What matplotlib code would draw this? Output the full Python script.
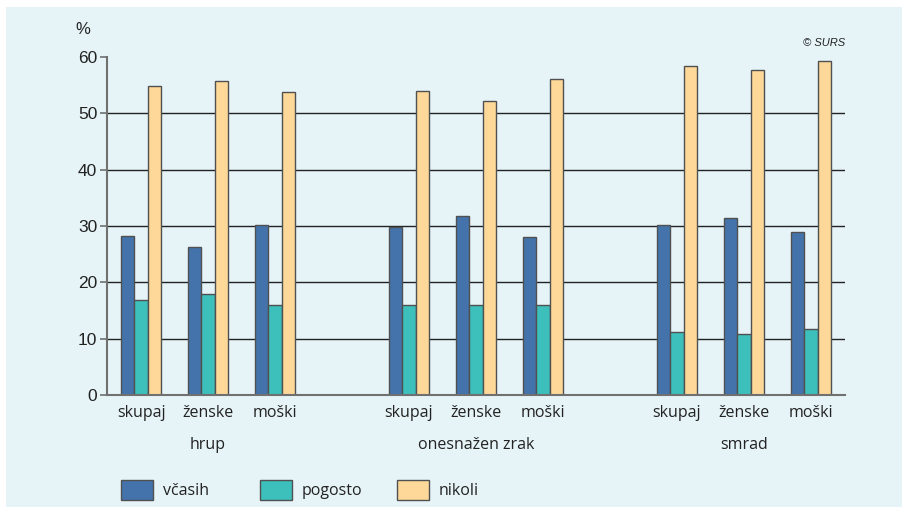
import matplotlib.pyplot as plt
from matplotlib.patches import Rectangle
import numpy as np

groups = ['hrup', 'onesnažen zrak', 'smrad']
subgroups = ['skupaj', 'ženske', 'moški']
series = ['včasih', 'pogosto', 'nikoli']

vcasih = [28.2, 26.3, 30.2, 29.8, 31.8, 28.0, 30.2, 31.4, 28.9]
pogosto = [16.9, 17.9, 16.0, 16.0, 16.0, 16.0, 11.2, 10.8, 11.7]
nikoli = [54.9, 55.7, 53.8, 54.0, 52.2, 56.1, 58.4, 57.7, 59.3]

colors = ['#4473ab', '#3dbfbb', '#fed899']
edge = '#505050'
label_font = ['Open Sans', 'DejaVu Sans']

fig = plt.figure(figsize=(9.02, 5.07), dpi=100)
fig.patch.set_facecolor('white')
# light blue panel behind everything
fig.patches.append(Rectangle((6 / 902, 0), 1, 1 - 7 / 507, transform=fig.transFigure,
                             facecolor='#e6f4f8', edgecolor='none', zorder=-10))

ax = fig.add_axes([107 / 902, 1 - 395 / 507, (845 - 107) / 902, (395 - 57) / 507])
ax.patch.set_visible(False)

pos = []
for g in range(len(groups)):
    for s in range(len(subgroups)):
        pos.append(g * 4 + s)
pos = np.array(pos)

w = 0.2
for i, vals in enumerate([vcasih, pogosto, nikoli]):
    ax.bar(pos + (i - 1) * w, vals, width=w, color=colors[i], edgecolor=edge,
           linewidth=1, zorder=3, label=series[i])

ax.set_xlim(-0.51, 10.51)
ax.set_ylim(0, 60)
ax.set_yticks(range(0, 61, 10))
ax.set_yticklabels([str(v) for v in range(0, 61, 10)], fontsize=12.5,
                   family='Liberation Sans', color='#222222')
for v in range(10, 60, 10):
    ax.axhline(v, color='#222222', linewidth=1, zorder=1)
ax.axhline(0, color='#707070', linewidth=1.5, zorder=4, clip_on=False)

for sp in ['top', 'right', 'bottom']:
    ax.spines[sp].set_visible(False)
ax.spines['left'].set_color('#707070')
ax.spines['left'].set_linewidth(1.5)
ax.tick_params(axis='y', length=5, width=1.2, color='#707070', pad=2)
ax.tick_params(axis='x', length=0, pad=7)

ax.set_xticks(pos)
ax.set_xticklabels(subgroups * len(groups), fontsize=11.5, family=label_font, color='#222222')

for g, name in enumerate(groups):
    ax.text(g * 4 + 1, -8.9, name, ha='center', va='center', fontsize=11.5,
            family=label_font, color='#222222')

fig.text(83 / 902, 1 - 30 / 507, '%', ha='center', va='center', fontsize=12,
         family='Liberation Sans', color='#222222')
fig.text(845 / 902, 1 - 43 / 507, '© SURS', ha='right', va='center', fontsize=8,
         family='Liberation Sans', style='italic', color='#222222')

# legend drawn by hand to keep the wide spacing
leg_x = [121, 260, 397]
for i in range(3):
    fig.patches.append(Rectangle((leg_x[i] / 902, 1 - 500 / 507), 32 / 902, 20 / 507,
                                 transform=fig.transFigure, facecolor=colors[i],
                                 edgecolor=edge, linewidth=1))
    fig.text((leg_x[i] + 42) / 902, 1 - 491 / 507, series[i], ha='left', va='center',
             fontsize=11.5, family=label_font, color='#222222')

fig.savefig('out.png', dpi=100)
